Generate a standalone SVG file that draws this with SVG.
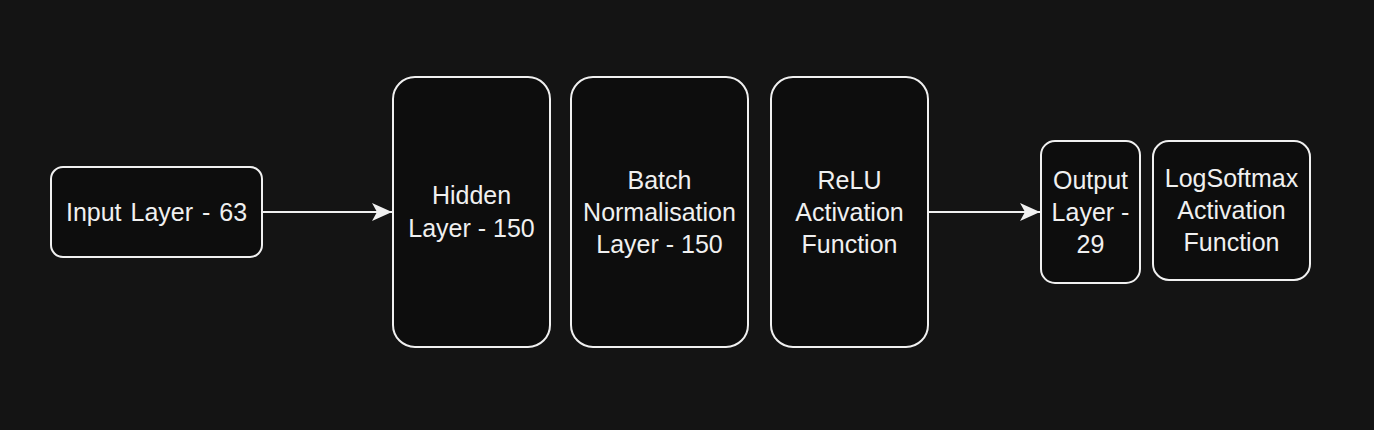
<svg xmlns="http://www.w3.org/2000/svg" width="1374" height="430" viewBox="0 0 1374 430">
<style>
.n{fill:#0d0d0d;stroke:#f0f0f0;stroke-width:2}
.t{fill:#f0f0f0;font-family:"Liberation Sans",Arial,sans-serif;font-size:25px;text-anchor:middle}
.c{stroke:#f0f0f0;stroke-width:2;fill:none}
</style>
<defs>
<marker id="ah" viewBox="0 0 20 18" refX="20" refY="9" markerWidth="20" markerHeight="18" markerUnits="userSpaceOnUse" orient="auto">
<path d="M0,0 L20,9 L0,18 L5,9 Z" fill="#f0f0f0"/>
</marker>
</defs>
<rect width="1374" height="430" fill="#141414"/>
<g id="connectors">
<path class="c" d="M262,212 L392,212" marker-end="url(#ah)"/>
<path class="c" d="M928,212 L1040,212" marker-end="url(#ah)"/>
</g>
<g id="input">
<rect class="n" x="51" y="167" width="211" height="90" rx="12"/>
<text class="t" x="156.5" y="221" word-spacing="2">Input Layer - 63</text>
</g>
<g id="hidden">
<rect class="n" x="393" y="77" width="157" height="270" rx="22"/>
<text class="t" x="471.5" y="204">Hidden</text>
<text class="t" x="471.5" y="237">Layer - 150</text>
</g>
<g id="batch">
<rect class="n" x="571" y="77" width="177" height="270" rx="22"/>
<text class="t" x="659.5" y="189">Batch</text>
<text class="t" x="659.5" y="221">Normalisation</text>
<text class="t" x="659.5" y="253">Layer - 150</text>
</g>
<g id="relu">
<rect class="n" x="771" y="77" width="157" height="270" rx="22"/>
<text class="t" x="849.5" y="189">ReLU</text>
<text class="t" x="849.5" y="221">Activation</text>
<text class="t" x="849.5" y="253">Function</text>
</g>
<g id="output">
<rect class="n" x="1041" y="141" width="99" height="142" rx="14"/>
<text class="t" x="1090.5" y="189">Output</text>
<text class="t" x="1090.5" y="221">Layer -</text>
<text class="t" x="1090.5" y="253">29</text>
</g>
<g id="logsoftmax">
<rect class="n" x="1153" y="141" width="157" height="139" rx="16"/>
<text class="t" x="1231.5" y="187">LogSoftmax</text>
<text class="t" x="1231.5" y="219">Activation</text>
<text class="t" x="1231.5" y="251">Function</text>
</g>
</svg>
